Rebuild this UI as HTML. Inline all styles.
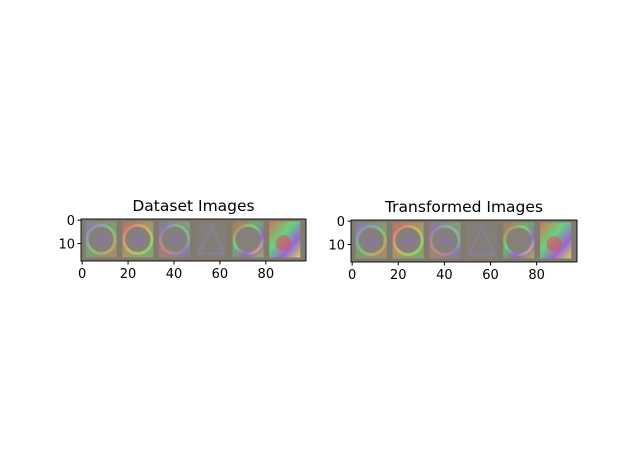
<!DOCTYPE html>
<html><head><meta charset="utf-8"><style>
body{margin:0;background:#fff;}
svg{display:block;font-family:"DejaVu Sans","Liberation Sans",sans-serif;}
</style></head><body>
<svg id="fig" width="640" height="476" viewBox="0 0 640 476">
<defs>
<linearGradient id="g0" x1="0" y1="0" x2="1" y2="1"><stop offset="0" stop-color="#9a7cf0"/><stop offset="0.5" stop-color="#7fd07a"/><stop offset="1" stop-color="#e6a060"/></linearGradient>
<linearGradient id="g1" x1="0" y1="0" x2="1" y2="1"><stop offset="0" stop-color="#f07070"/><stop offset="0.5" stop-color="#e0c060"/><stop offset="1" stop-color="#70f070"/></linearGradient>
<linearGradient id="g2" x1="1" y1="0" x2="0" y2="1"><stop offset="0" stop-color="#80e080"/><stop offset="0.5" stop-color="#9080d0"/><stop offset="1" stop-color="#e09070"/></linearGradient>
<linearGradient id="g3" x1="0" y1="0" x2="1" y2="1"><stop offset="0" stop-color="#ff70a0"/><stop offset="0.5" stop-color="#c0c040"/><stop offset="1" stop-color="#60f0a0"/></linearGradient>
<linearGradient id="g4" x1="0" y1="0" x2="1" y2="1"><stop offset="0" stop-color="#f07050"/><stop offset="0.4" stop-color="#60f080"/><stop offset="0.7" stop-color="#a060f0"/><stop offset="1" stop-color="#f0f060"/></linearGradient>
</defs>
</svg>
<script>
const tileCols = [0,1,2,3,4,5];
const xTicks = [0,20,40,60,80];
const yTicks = [0,10];
const imgW = 98, imgH = 18;
const panels = [
  {title:'Dataset Images', x0:81, x1:306, y0:219, y1:261, name:'dataset'},
  {title:'Transformed Images', x0:351, x1:577, y0:220, y1:262, name:'transformed'}
];
const NS='http://www.w3.org/2000/svg';
const svg=document.getElementById('fig');
function mk(t,a,p){const e=document.createElementNS(NS,t);for(const k in a)e.setAttribute(k,a[k]);(p||svg).appendChild(e);return e;}
panels.forEach(P=>{
  const sx=v=>P.x0+(v+0.5)*(P.x1-P.x0)/imgW;
  const sy=v=>P.y0+(v+0.5)*(P.y1-P.y0)/imgH;
  const g=mk('g',{});
  
  
  const bg=mk('rect',{x:P.x0,y:P.y0,width:P.x1-P.x0,height:P.y1-P.y0,fill:'#817a6e'},g);
  
  
  tileCols.forEach(i=>{
    const tx=sx(1.5+16*i), ty=sy(0.5), w=sx(15+16*i)-tx, h=sy(16)-ty;
    const t=mk('g',{},g);
    
    
    const grad='url(#g'+(i%5)+')';
    if(i===3){
      mk('rect',{x:tx,y:ty,width:w,height:h,fill:'#847e78'},t);
      mk('polygon',{points:`${tx+w/2},${ty+4} ${tx+3},${ty+h-4} ${tx+w-3},${ty+h-4}`,fill:'none',stroke:'#8a7f96','stroke-width':2.5,opacity:0.8},t);
    } else if(i===5){
      mk('rect',{x:tx,y:ty,width:w,height:h,fill:'url(#g4)',opacity:0.75},t);
      mk('circle',{cx:tx+w*0.45,cy:ty+h*0.6,r:w*0.25,fill:'#e05060',opacity:0.6},t);
    } else {
      mk('rect',{x:tx,y:ty,width:w,height:h,fill:grad,opacity:0.4},t);
      mk('circle',{cx:tx+w/2,cy:ty+h/2,r:Math.min(w,h)/2-1.5,fill:'#86807a',stroke:grad,'stroke-width':3,'stroke-opacity':0.75},t);
      if(i!==4) mk('rect',{x:tx+w*0.35,y:ty+h*0.4,width:w*0.35,height:h*0.22,fill:'#8a70b0',opacity:0.6},t);
    }
  });
  const fr=mk('rect',{x:P.x0,y:P.y0,width:P.x1-P.x0,height:P.y1-P.y0,fill:'none',stroke:'#000','stroke-width':0.9},g);
  
  
  xTicks.forEach(v=>{
    const x=sx(v);
    mk('line',{x1:x,x2:x,y1:P.y1,y2:P.y1+3.5,stroke:'#000'},g);
    const tl=mk('text',{x:x,y:P.y1+17,'font-size':13,'text-anchor':'middle',fill:'#000'},g);
    tl.textContent=v;
    
    
  });
  yTicks.forEach(v=>{
    const y=sy(v);
    mk('line',{x1:P.x0,x2:P.x0-3.5,y1:y,y2:y,stroke:'#000'},g);
    const tl=mk('text',{x:P.x0-6,y:y+5,'font-size':13,'text-anchor':'end',fill:'#000'},g);
    tl.textContent=v;
    
    
  });
  const tt=mk('text',{x:(P.x0+P.x1)/2,y:P.y0-8,'font-size':15.5,'text-anchor':'middle',fill:'#000'},g);
  tt.textContent=P.title;
  
  
});
</script>
</body></html>
